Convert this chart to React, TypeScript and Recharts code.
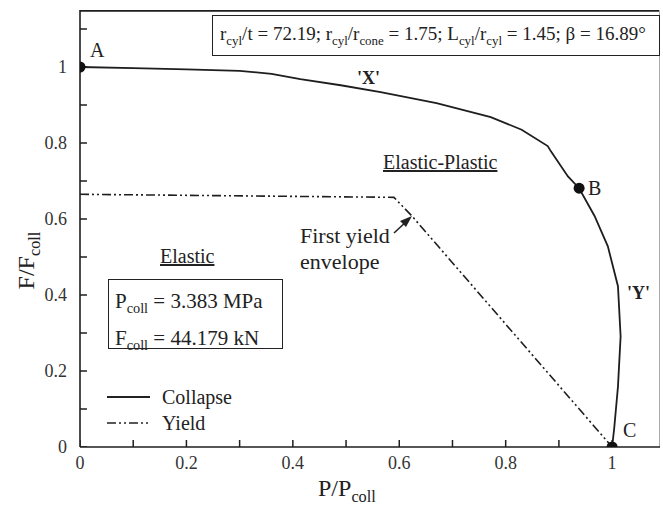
import React from "react";
import { ComposedChart, Line, Scatter, XAxis, YAxis } from "recharts";

// collapse envelope (P/Pcoll, F/Fcoll)
const collapseP = [0, 0.1, 0.2, 0.3, 0.36, 0.414, 0.49, 0.565, 0.67, 0.772, 0.83, 0.879, 0.885, 0.917, 0.938, 0.967, 0.992, 1.011, 1.016, 1.011, 1.004, 1.0];
const collapseF = [1, 0.997, 0.994, 0.99, 0.982, 0.968, 0.952, 0.934, 0.905, 0.868, 0.835, 0.792, 0.778, 0.712, 0.681, 0.608, 0.528, 0.423, 0.291, 0.159, 0.05, 0];

// first yield envelope
const yieldP = [0, 0.59, 0.625, 1.0];
const yieldF = [0.665, 0.657, 0.606, 0];

// marked points
const pointNames = ["A", "B", "C"];
const pointP = [0, 0.938, 1.0];
const pointF = [1, 0.681, 0];

// tick marks (every 0.1) and labelled ticks
const xTicks = [0, 0.1, 0.2, 0.3, 0.4, 0.5, 0.6, 0.7, 0.8, 0.9, 1];
const yTicks = [0, 0.1, 0.2, 0.3, 0.4, 0.5, 0.6, 0.7, 0.8, 0.9, 1, 1.1];
const xLabels = [0, 0.2, 0.4, 0.6, 0.8, 1];
const yLabels = [0, 0.2, 0.4, 0.6, 0.8, 1];

const X_MAX = 1.09;
const Y_MAX = 1.15;

const FONT = "'Liberation Serif', 'Times New Roman', serif";
const INK = "#1e1e1e";

const collapseData = collapseP.map((p, i) => ({ p, f: collapseF[i] }));
const yieldData = yieldP.map((p, i) => ({ p, f: yieldF[i] }));
const pointData = pointP.map((p, i) => ({ p, f: pointF[i], name: pointNames[i] }));
const xTickData = xTicks.map((p) => ({ p, f: 0 }));
const yTickData = yTicks.map((f) => ({ p: 0, f }));
const topFrame = [
	{ p: 0, f: Y_MAX },
	{ p: X_MAX, f: Y_MAX },
];
const rightFrame = [
	{ p: X_MAX, f: 0 },
	{ p: X_MAX, f: Y_MAX },
];

const Dot = (props: any) => <circle cx={props.cx} cy={props.cy} r={5.5} fill="#111" />;
const XTickMark = (props: any) => (
	<line x1={props.cx} y1={props.cy} x2={props.cx} y2={props.cy - 7} stroke={INK} strokeWidth={1.5} />
);
const YTickMark = (props: any) => (
	<line x1={props.cx} y1={props.cy} x2={props.cx + 7} y2={props.cy} stroke={INK} strokeWidth={1.5} />
);

const txt = (x: number, y: number, size: number, extra: React.CSSProperties = {}): React.CSSProperties => ({
	position: "absolute",
	left: x,
	top: y,
	fontFamily: FONT,
	fontSize: size,
	color: "#222",
	whiteSpace: "nowrap",
	lineHeight: 1,
	...extra,
});

const sub: React.CSSProperties = { fontSize: "0.68em", verticalAlign: "-0.35em" };
const tickStyle = { fontSize: 18, fontFamily: FONT, fill: "#333" };

export default function App() {
	return (
		<div style={{ position: "absolute", left: 0, top: 0, width: 663, height: 509, background: "#fff" }}>
			<ComposedChart width={663} height={509} margin={{ top: 10, right: 3, bottom: 32, left: 40 }}>
				<XAxis
					dataKey="p"
					type="number"
					domain={[0, X_MAX]}
					ticks={xLabels}
					interval={0}
					allowDataOverflow
					tick={tickStyle}
					tickFormatter={(v) => String(v)}
					tickLine={false}
					tickSize={0}
					tickMargin={9}
					height={30}
					axisLine={{ stroke: INK, strokeWidth: 1.6 }}
				/>
				<YAxis
					type="number"
					domain={[0, Y_MAX]}
					ticks={yLabels}
					interval={0}
					allowDataOverflow
					tick={tickStyle}
					tickFormatter={(v) => String(v)}
					tickLine={false}
					tickSize={0}
					tickMargin={13}
					width={40}
					axisLine={{ stroke: INK, strokeWidth: 1.6 }}
				/>
				{/* frame: top and right edges (half the stroke is clipped) */}
				<Line data={topFrame} dataKey="f" stroke={INK} strokeWidth={3.4} dot={false} isAnimationActive={false} />
				<Line data={rightFrame} dataKey="f" stroke="#aaa" strokeWidth={2} dot={false} isAnimationActive={false} />
				{/* inward tick marks */}
				<Scatter data={xTickData} dataKey="f" shape={<XTickMark />} isAnimationActive={false} />
				<Scatter data={yTickData} dataKey="f" shape={<YTickMark />} isAnimationActive={false} />
				<Line
					data={yieldData}
					dataKey="f"
					type="linear"
					stroke={INK}
					strokeWidth={1.6}
					strokeDasharray="9 3 2 3 2 3"
					dot={false}
					isAnimationActive={false}
				/>
				<Line
					data={collapseData}
					dataKey="f"
					type="linear"
					stroke={INK}
					strokeWidth={1.8}
					dot={false}
					isAnimationActive={false}
				/>
				<Scatter data={pointData} dataKey="f" shape={<Dot />} isAnimationActive={false} />
			</ComposedChart>

			{/* axis titles */}
			<div style={txt(318, 476, 24)}>
				P/P<span style={sub}>coll</span>
			</div>
			<div style={txt(0, 246, 24, { transform: "rotate(-90deg)", transformOrigin: "center" })}>
				F/F<span style={sub}>coll</span>
			</div>

			{/* parameter box */}
			<div style={txt(212, 15, 19, { border: "1.6px solid #222", padding: "8px 0 8px 7px", width: 439 })}>
				r<span style={sub}>cyl</span>/t = 72.19; r<span style={sub}>cyl</span>/r<span style={sub}>cone</span> = 1.75; L
				<span style={sub}>cyl</span>/r<span style={sub}>cyl</span> = 1.45; β = 16.89°
			</div>

			{/* point labels */}
			<div style={txt(90, 40, 20)}>{pointNames[0]}</div>
			<div style={txt(588, 178, 20)}>{pointNames[1]}</div>
			<div style={txt(623, 420, 20)}>{pointNames[2]}</div>
			<div style={txt(357, 69, 18, { fontWeight: "bold" })}>'X'</div>
			<div style={txt(627, 284, 18, { fontWeight: "bold" })}>'Y'</div>

			{/* regions */}
			<div style={txt(383, 152, 20, { textDecoration: "underline" })}>Elastic-Plastic</div>
			<div style={txt(160, 246, 20, { textDecoration: "underline" })}>Elastic</div>

			{/* first yield annotation */}
			<div style={txt(300, 225, 22)}>First yield</div>
			<div style={txt(300, 251, 22)}>envelope</div>
			<svg style={{ position: "absolute", left: 0, top: 0 }} width={663} height={509} pointerEvents="none">
				<line x1={394} y1={233} x2={408} y2={220} stroke="#222" strokeWidth={1.6} />
				<polygon points="412,216 400,221 406,227" fill="#222" />
			</svg>

			{/* collapse load box */}
			<div style={txt(108, 279, 21, { border: "1.6px solid #222", width: 175, height: 70, padding: "6px 0 0 6px", boxSizing: "border-box", lineHeight: "30px" })}>
				<div>
					P<span style={sub}>coll</span> = 3.383 MPa
				</div>
				<div>
					F<span style={sub}>coll</span> = 44.179 kN
				</div>
			</div>

			{/* legend */}
			<svg style={{ position: "absolute", left: 0, top: 0 }} width={663} height={509} pointerEvents="none">
				<line x1={107} y1={397} x2={150} y2={397} stroke="#222" strokeWidth={1.8} />
				<line x1={107} y1={423} x2={150} y2={423} stroke="#222" strokeWidth={1.6} strokeDasharray="9 3 2 3 2 3" />
			</svg>
			<div style={txt(162, 387, 20)}>Collapse</div>
			<div style={txt(162, 413, 20)}>Yield</div>
		</div>
	);
}
